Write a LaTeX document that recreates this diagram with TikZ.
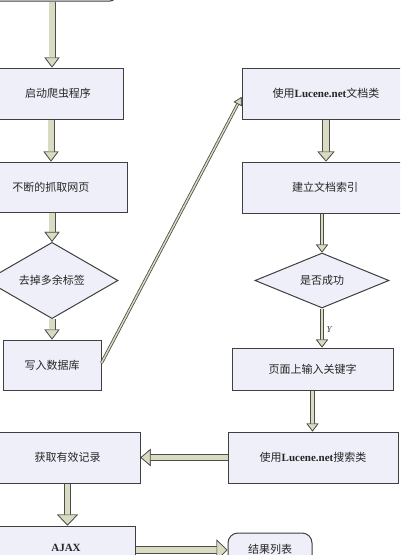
\documentclass[tikz,border=0pt]{standalone}
\usepackage{fontspec}
\setmainfont{Noto Sans CJK SC}
\newfontfamily\tms{Liberation Serif}
\usetikzlibrary{arrows.meta,shapes.geometric,calc}
\definecolor{boxfill}{HTML}{EEEFF8}
\definecolor{boxline}{HTML}{3F3F3F}
\definecolor{arrline}{HTML}{4E4E46}
\definecolor{arrfill}{HTML}{D9DBC3}
\tikzset{
  base/.style={draw=boxline, fill=boxfill, line width=1pt, inner sep=0pt,
    font=\fontsize{11}{13}\selectfont, text=black!85},
  procbox/.style n args={2}{base, rectangle, minimum width=#1, minimum height=#2},
  roundbox/.style n args={2}{base, rectangle, rounded corners=10pt, minimum width=#1, minimum height=#2},
  decbox/.style n args={2}{base, diamond, minimum width=#1, minimum height=#2},
  blk/.style n args={4}{draw=arrline, line width=#1,
    -{Triangle[length=#4,width=#3,fill=arrfill,color=arrline,line width=0.7pt]},
    postaction={draw=arrfill, line width=#2,
    -{Triangle[length=#4,width=#3,fill=arrfill,color=arrline,line width=0.7pt]}}},
  lbl/.style={font=\tms\itshape\fontsize{9}{10}\selectfont, text=black!80},
}
\begin{document}
\begin{tikzpicture}[x=1pt,y=-1pt]
\useasboundingbox (0,0) rectangle (400,555);
\clip (0,0) rectangle (400,555);
% left column
\node[roundbox={140pt}{42pt}, rounded corners=6pt] (top) at (46,-20) {};
\node[procbox={130pt}{51pt}] (b1) at (58,93.5) {启动爬虫程序};
\node[procbox={152pt}{50pt}] (b2) at (51,187) {不断的抓取网页};
\node[decbox={132pt}{55pt}] (d1) at (52,280.5) {去掉多余标签};
\node[procbox={98pt}{50pt}] (b3) at (52,365) {写入数据库};
% right column
\node[procbox={168pt}{51pt}] (r1) at (326,93.5) {使用{\tms\bfseries Lucene.net}文档类};
\node[procbox={166pt}{51pt}] (r2) at (325,187.5) {建立文档索引};
\node[decbox={134pt}{55pt}] (d2) at (322,280.5) {是否成功};
\node[procbox={161pt}{42pt}] (r3) at (312.5,369) {页面上输入关键字};
\node[procbox={170pt}{51pt}] (r4) at (313,457.5) {使用{\tms\bfseries Lucene.net}搜索类};
% bottom
\node[procbox={145pt}{51pt}] (l4) at (67.5,457.5) {获取有效记录};
\node[procbox={138pt}{44pt}] (ajax) at (66,548) {\tms\bfseries AJAX};
\node[roundbox={84pt}{32pt}] (res) at (270,549) {结果列表};
% connectors
\draw[blk={7pt}{5.4pt}{15pt}{10pt}] ([xshift=6pt]top.south) -- ([xshift=-6pt]b1.north);
\draw[blk={7pt}{5.4pt}{15pt}{10pt}] ([xshift=-7pt]b1.south) -- (b2.north);
\draw[blk={7pt}{5.4pt}{15pt}{10pt}] (b2.south -| d1.north) -- (d1.north);
\draw[blk={7pt}{5.4pt}{15pt}{10pt}] (d1.south) -- (b3.north);
\draw[blk={3pt}{1.4pt}{9pt}{8pt}] ([yshift=2pt]b3.east) -- ([yshift=-3.5pt]r1.west);
\draw[blk={8pt}{6.4pt}{17pt}{10pt}] (r1.south) -- (r1.south |- r2.north);
\draw[blk={4.5pt}{2.9pt}{12pt}{8pt}] (d2.north |- r2.south) -- (d2.north);
\draw[blk={4.5pt}{2.9pt}{12pt}{8pt}] (d2.south) -- node[lbl, right, xshift=-1pt, yshift=-2pt] (ylab) {Y} (d2.south |- r3.north);
\draw[blk={4.8pt}{3.2pt}{12pt}{8pt}] (r3.south) -- (r3.south |- r4.north);
\draw[blk={7pt}{5.4pt}{17pt}{10pt}] (r4.west) -- (l4.east);
\draw[blk={7.5pt}{5.9pt}{21pt}{11pt}] (l4.south) -- (l4.south |- ajax.north);
\draw[blk={7.5pt}{5.9pt}{21pt}{11pt}] ([yshift=-2pt]ajax.east) -- ([yshift=-2pt]ajax.east -| res.west);
\end{tikzpicture}
\end{document}
